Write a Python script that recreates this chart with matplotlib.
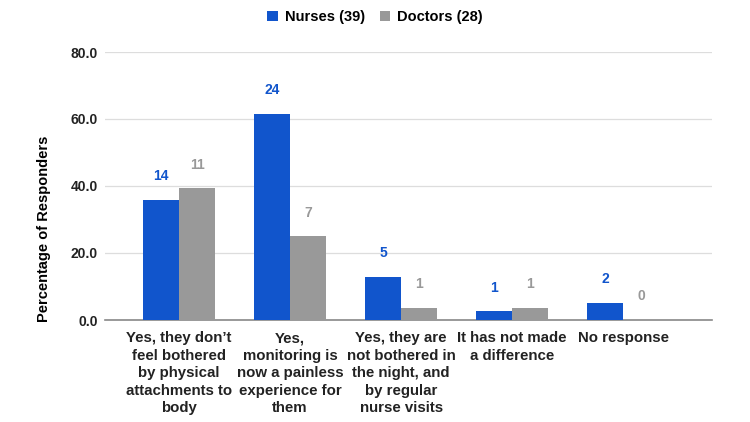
import matplotlib.pyplot as plt
import numpy as np

plt.rcParams["font.family"] = ["Liberation Sans", "DejaVu Sans"]
plt.rcParams["font.weight"] = "bold"

categories = [
    "Yes, they don\u2019t\nfeel bothered\nby physical\nattachments to\nbody",
    "Yes,\nmonitoring is\nnow a painless\nexperience for\nthem",
    "Yes, they are\nnot bothered in\nthe night, and\nby regular\nnurse visits",
    "It has not made\na difference",
    "No response",
]
nurse_counts = [14, 24, 5, 1, 2]
doctor_counts = [11, 7, 1, 1, 0]
nurse_total = 39
doctor_total = 28

nurse_pct = np.array(nurse_counts) / nurse_total * 100
doctor_pct = np.array(doctor_counts) / doctor_total * 100

blue = "#1155cc"
gray = "#999999"

fig = plt.figure(figsize=(7.5, 4.22), dpi=100)
ax = fig.add_axes([105 / 750, 1 - 320 / 422, 607 / 750, 268 / 422])

x = np.arange(len(categories))
w = 0.325
b1 = ax.bar(x - w / 2, nurse_pct, w, color=blue, label=f"Nurses ({nurse_total})", zorder=3)
b2 = ax.bar(x + w / 2, doctor_pct, w, color=gray, label=f"Doctors ({doctor_total})", zorder=3)

# count labels above bars
for bars, counts, c in [(b1, nurse_counts, blue), (b2, doctor_counts, gray)]:
    for bar, n in zip(bars, counts):
        ax.annotate(str(n), (bar.get_x() + bar.get_width() / 2, bar.get_height()),
                    xytext=(0, 12), textcoords="offset points", ha="center", va="bottom",
                    color=c, fontsize=10, fontweight="bold")

ax.set_ylim(0, 80)
ax.set_xlim(-0.667, 4.8)
ax.set_yticks([0, 20, 40, 60, 80])
ax.set_yticklabels([f"{v:.1f}" for v in [0, 20, 40, 60, 80]])
ax.set_xticks(x)
ax.set_xticklabels(categories, fontsize=10.8, linespacing=1.32, va="top")
ax.tick_params(axis="both", length=0, colors="#222222")
ax.tick_params(axis="y", labelsize=10, pad=5)
ax.tick_params(axis="x", pad=8)
ax.grid(axis="y", color="#dddddd", linewidth=0.9, zorder=0)
for s in ["top", "right", "left"]:
    ax.spines[s].set_visible(False)
ax.spines["bottom"].set_color("#888888")
ax.spines["bottom"].set_linewidth(1.2)
ax.set_ylabel("Percentage of Responders", fontsize=10.5, fontweight="bold")
ax.yaxis.set_label_coords(-0.089, 0.34)

fig.legend(handles=[b1, b2], loc="center", bbox_to_anchor=(0.5, 1 - 17 / 422), ncol=2,
           frameon=False, fontsize=10.5, handlelength=0.7, handleheight=0.7,
           columnspacing=1.0, handletextpad=0.5)

fig.savefig("out.png", dpi=100)
